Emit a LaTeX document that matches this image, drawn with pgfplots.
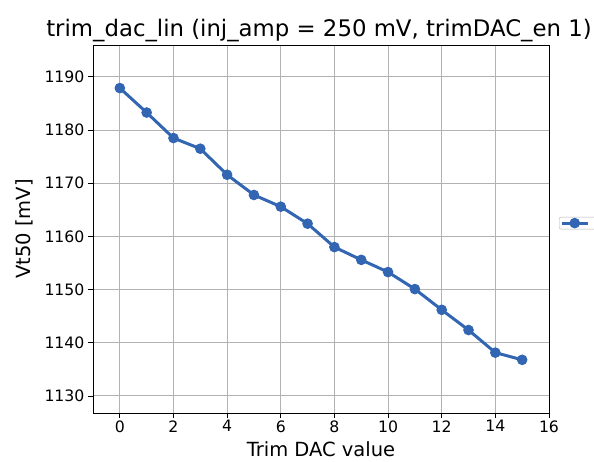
\documentclass[border=0pt]{standalone}
\usepackage{fontspec}
\setmainfont{DejaVu Sans}
\usepackage{pgfplots}
\pgfplotsset{compat=1.18}
\definecolor{lineblue}{RGB}{50,101,178}
\definecolor{gridgray}{RGB}{178,178,178}
\newcommand{\tickfont}{\fontsize{15.7}{18}\selectfont}

\begin{document}
\begin{tikzpicture}[x=1pt,y=1pt]
\useasboundingbox (-93,-48) rectangle (501,413);
\begin{axis}[
at={(0,0)},anchor=south west,
width=456pt,height=368pt,scale only axis,
xmin=-1,xmax=16,ymin=1126.8,ymax=1196,
xtick={0,2,...,16},ytick={1130,1140,...,1190},
xtick pos=bottom,ytick pos=left,
grid=major,
major grid style={gridgray,line width=1pt},
tick align=outside,
major tick length=5pt,
tick style={black,line width=0.9pt},
axis line style={black,line width=0.9pt},
/pgf/number format/assume math mode=true,
/pgf/number format/1000 sep={},
xticklabel={\tickfont\pgfmathprintnumber{\tick}},
yticklabel={\tickfont\pgfmathprintnumber{\tick}},
xticklabel style={yshift=1pt},
xlabel={Trim DAC value},
ylabel={Vt50 [mV]},
label style={font=\fontsize{19.5}{22}\selectfont},
xlabel style={yshift=-2pt},
ylabel style={yshift=5pt},
title={trim\_dac\_lin (inj\_amp = 250 mV, trimDAC\_en 1)},
title style={font=\fontsize{22.8}{26}\selectfont,yshift=-6pt,xshift=-2pt},
legend style={at={(1.022,0.516)},anchor=west,draw=gridgray,rounded corners=2pt,
  inner sep=1pt,font=\fontsize{6}{7}\selectfont},
legend image code/.code={
  \draw[mark repeat=2,mark phase=2,#1] plot coordinates {(0pt,0pt) (13pt,0pt) (26pt,0pt)};},
]
\addplot[lineblue,line width=3pt,mark=*,mark size=4.8pt,mark options={fill=lineblue,draw=lineblue,line width=1pt}] coordinates {
(0,1187.9) (1,1183.3) (2,1178.5) (3,1176.5) (4,1171.6) (5,1167.8) (6,1165.6) (7,1162.4)
(8,1158.0) (9,1155.6) (10,1153.3) (11,1150.1) (12,1146.2) (13,1142.4) (14,1138.15) (15,1136.8)};
\addlegendentry{\phantom{Vt50 [mV]}}
\end{axis}
\end{tikzpicture}
\end{document}
